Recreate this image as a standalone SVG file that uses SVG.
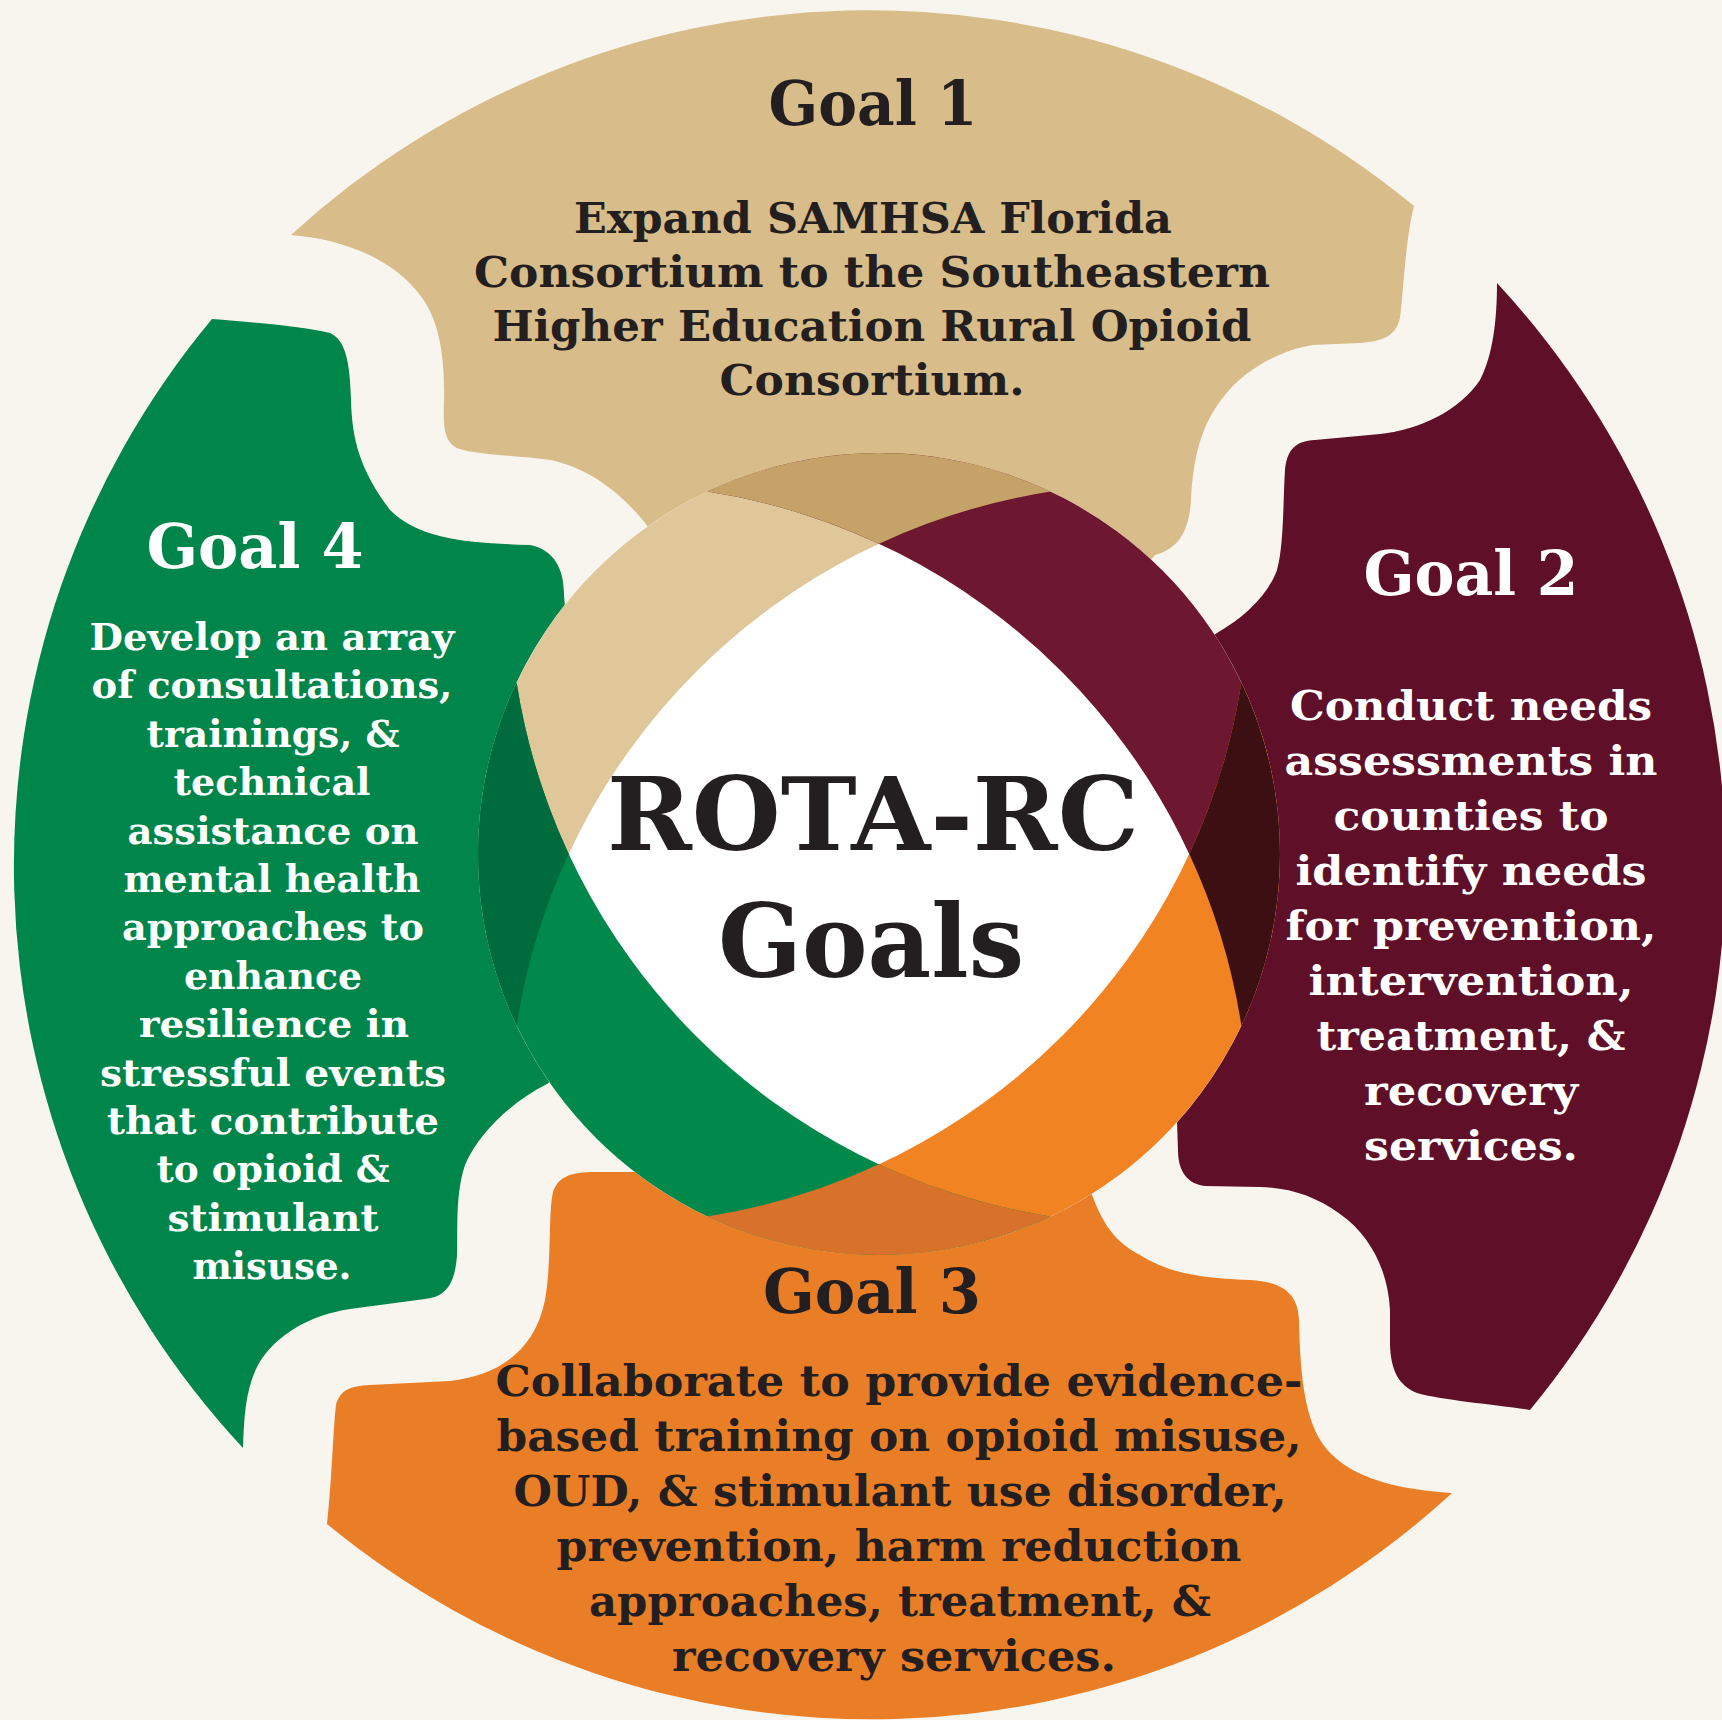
<svg xmlns="http://www.w3.org/2000/svg" width="1722" height="1720" viewBox="0 0 1722 1720">
<style>
  .t{font-family:"DejaVu Serif","Liberation Serif",serif;font-weight:bold;text-anchor:middle}
  .dk{fill:#231F20}
  .wt{fill:#FFFFFF}
  .ttl{font-size:61px}
  .b13{font-size:43px}
  .b2{font-size:41px}
  .b4{font-size:38px}
  .ctr{font-size:101px}
</style>
<rect x="0" y="0" width="1722" height="1720" fill="#F8F5EE"/>

<g id="goal1">
  <path fill="#D8BC8A" d="M291,235 A856,856 0 0 1 1414,206 C1405,240 1403,300 1400,318 C1396,335 1385,341 1360,343 L1313,345 C1280,350 1245,370 1225,395 C1200,425 1193,460 1191,500 C1189,530 1180,548 1155,555 L1100,620 L700,620 L646,524 C625,498 595,470 551,460 C515,455 470,455 455,447 C444,440 443,425 444,400 C445,360 440,320 420,295 C395,262 350,240 291,235 Z"/>
  <text class="t dk ttl" x="873" y="125" textLength="209" lengthAdjust="spacingAndGlyphs">Goal 1</text>
  <text class="t dk b13" x="873" y="233" textLength="598" lengthAdjust="spacingAndGlyphs">Expand SAMHSA Florida</text>
  <text class="t dk b13" x="872" y="287" textLength="796" lengthAdjust="spacingAndGlyphs">Consortium to the Southeastern</text>
  <text class="t dk b13" x="872" y="341" textLength="759" lengthAdjust="spacingAndGlyphs">Higher Education Rural Opioid</text>
  <text class="t dk b13" x="872" y="395" textLength="305" lengthAdjust="spacingAndGlyphs">Consortium.</text>
</g>

<g id="goal2">
  <path fill="#5F1028" d="M1497,283 A856,856 0 0 1 1530,1410 C1500,1405 1440,1400 1417,1393 C1398,1385 1391,1370 1390,1345 L1390,1310 C1388,1270 1370,1235 1340,1214 C1315,1196 1290,1188 1260,1187 L1205,1186 C1188,1184 1178,1172 1178,1150 L1177,1122 L1100,1000 L1100,700 L1217,633 C1245,617 1268,595 1277,570 C1284,545 1283,500 1285,470 C1287,450 1295,441 1315,440 L1380,434 C1420,430 1460,410 1480,380 C1493,355 1497,320 1497,283 Z"/>
  <text class="t wt ttl" x="1471" y="595" textLength="215" lengthAdjust="spacingAndGlyphs">Goal 2</text>
  <text class="t wt b2" x="1471" y="720" textLength="362" lengthAdjust="spacingAndGlyphs">Conduct needs</text>
  <text class="t wt b2" x="1471" y="775" textLength="373" lengthAdjust="spacingAndGlyphs">assessments in</text>
  <text class="t wt b2" x="1471" y="830" textLength="275" lengthAdjust="spacingAndGlyphs">counties to</text>
  <text class="t wt b2" x="1471" y="885" textLength="351" lengthAdjust="spacingAndGlyphs">identify needs</text>
  <text class="t wt b2" x="1471" y="940" textLength="371" lengthAdjust="spacingAndGlyphs">for prevention,</text>
  <text class="t wt b2" x="1471" y="995" textLength="325" lengthAdjust="spacingAndGlyphs">intervention,</text>
  <text class="t wt b2" x="1471" y="1050" textLength="309" lengthAdjust="spacingAndGlyphs">treatment, &amp;</text>
  <text class="t wt b2" x="1471" y="1105" textLength="214" lengthAdjust="spacingAndGlyphs">recovery</text>
  <text class="t wt b2" x="1471" y="1160" textLength="214" lengthAdjust="spacingAndGlyphs">services.</text>
</g>

<g id="goal3">
  <path fill="#EA7E26" d="M327,1524 C332,1480 333,1430 336,1405 C340,1390 350,1386 370,1385 L450,1381 C500,1375 535,1350 545,1300 C552,1260 548,1215 553,1192 C558,1178 568,1173 590,1172 L640,1172 L700,1100 L1050,1100 L1092,1195 C1100,1215 1110,1240 1140,1255 C1165,1270 1190,1278 1250,1280 C1285,1282 1298,1295 1299,1320 C1300,1360 1302,1400 1315,1430 C1330,1465 1370,1488 1452,1493 A857,857 0 0 1 327,1524 Z"/>
  <text class="t dk ttl" x="872" y="1313" textLength="218" lengthAdjust="spacingAndGlyphs">Goal 3</text>
  <text class="t dk b13" x="899" y="1396" textLength="807" lengthAdjust="spacingAndGlyphs">Collaborate to provide evidence-</text>
  <text class="t dk b13" x="899" y="1451" textLength="805" lengthAdjust="spacingAndGlyphs">based training on opioid misuse,</text>
  <text class="t dk b13" x="900" y="1506" textLength="773" lengthAdjust="spacingAndGlyphs">OUD, &amp; stimulant use disorder,</text>
  <text class="t dk b13" x="899" y="1561" textLength="685" lengthAdjust="spacingAndGlyphs">prevention, harm reduction</text>
  <text class="t dk b13" x="900" y="1616" textLength="622" lengthAdjust="spacingAndGlyphs">approaches, treatment, &amp;</text>
  <text class="t dk b13" x="894" y="1671" textLength="444" lengthAdjust="spacingAndGlyphs">recovery services.</text>
</g>

<g id="goal4">
  <path fill="#00854A" d="M212,319 C250,322 300,326 330,333 C345,340 350,360 351,400 C352,440 360,470 390,510 C420,540 470,543 530,545 C555,550 564,570 564,595 L566,620 L650,700 L650,1000 L547,1084 C515,1100 480,1130 465,1165 C455,1195 458,1230 457,1255 C455,1285 445,1297 425,1299 L350,1309 C310,1315 275,1335 258,1365 C245,1390 244,1420 243,1448 A854,854 0 0 1 212,319 Z"/>
  <text class="t wt ttl" x="255" y="568" textLength="217" lengthAdjust="spacingAndGlyphs">Goal 4</text>
  <text class="t wt b4" x="272" y="650" textLength="365" lengthAdjust="spacingAndGlyphs">Develop an array</text>
  <text class="t wt b4" x="272" y="698" textLength="361" lengthAdjust="spacingAndGlyphs">of consultations,</text>
  <text class="t wt b4" x="273" y="747" textLength="253" lengthAdjust="spacingAndGlyphs">trainings, &amp;</text>
  <text class="t wt b4" x="272" y="795" textLength="197" lengthAdjust="spacingAndGlyphs">technical</text>
  <text class="t wt b4" x="273" y="844" textLength="291" lengthAdjust="spacingAndGlyphs">assistance on</text>
  <text class="t wt b4" x="272" y="892" textLength="297" lengthAdjust="spacingAndGlyphs">mental health</text>
  <text class="t wt b4" x="273" y="940" textLength="302" lengthAdjust="spacingAndGlyphs">approaches to</text>
  <text class="t wt b4" x="273" y="989" textLength="178" lengthAdjust="spacingAndGlyphs">enhance</text>
  <text class="t wt b4" x="274" y="1037" textLength="270" lengthAdjust="spacingAndGlyphs">resilience in</text>
  <text class="t wt b4" x="273" y="1086" textLength="346" lengthAdjust="spacingAndGlyphs">stressful events</text>
  <text class="t wt b4" x="273" y="1134" textLength="332" lengthAdjust="spacingAndGlyphs">that contribute</text>
  <text class="t wt b4" x="273" y="1182" textLength="233" lengthAdjust="spacingAndGlyphs">to opioid &amp;</text>
  <text class="t wt b4" x="273" y="1231" textLength="211" lengthAdjust="spacingAndGlyphs">stimulant</text>
  <text class="t wt b4" x="272" y="1279" textLength="159" lengthAdjust="spacingAndGlyphs">misuse.</text>
</g>

<g id="center">
  <circle cx="879" cy="854" r="401" fill="#FFFFFF"/>
  <path fill="#DFC79A" d="M1050.6,491.6 A401,401 0 0 0 516.6,1025.6 A640,640 0 0 1 1050.6,491.6 Z"/>
  <path fill="#6D1830" d="M707.4,491.6 A401,401 0 0 1 1241.4,1025.6 A640,640 0 0 0 707.4,491.6 Z"/>
  <path fill="#F28322" d="M707.4,1216.4 A401,401 0 0 0 1241.4,682.4 A640,640 0 0 1 707.4,1216.4 Z"/>
  <path fill="#00894A" d="M1050.6,1216.4 A401,401 0 0 1 516.6,682.4 A640,640 0 0 0 1050.6,1216.4 Z"/>
  <path fill="#C5A267" d="M707.4,491.6 A401,401 0 0 1 1050.6,491.6 A640,640 0 0 0 879,543.7 A640,640 0 0 0 707.4,491.6 Z"/>
  <path fill="#3C0F12" d="M1241.4,682.4 A401,401 0 0 1 1241.4,1025.6 A640,640 0 0 0 1189.3,854 A640,640 0 0 0 1241.4,682.4 Z"/>
  <path fill="#D8712A" d="M1050.6,1216.4 A401,401 0 0 1 707.4,1216.4 A640,640 0 0 0 879,1164.3 A640,640 0 0 0 1050.6,1216.4 Z"/>
  <path fill="#006C3E" d="M516.6,1025.6 A401,401 0 0 1 516.6,682.4 A640,640 0 0 0 568.7,854 A640,640 0 0 0 516.6,1025.6 Z"/>
  <text class="t dk ctr" x="873" y="850" textLength="532" lengthAdjust="spacingAndGlyphs">ROTA-RC</text>
  <text class="t dk ctr" x="871" y="977" textLength="306" lengthAdjust="spacingAndGlyphs">Goals</text>
</g>
</svg>
